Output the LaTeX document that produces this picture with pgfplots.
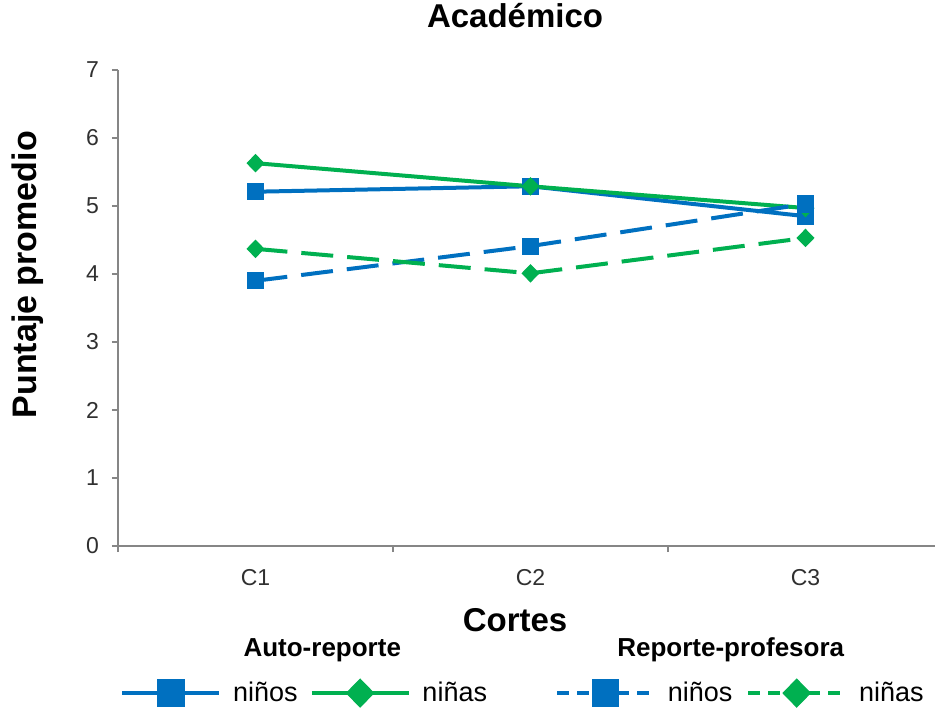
\documentclass[border=0pt]{standalone}
\usepackage{fontspec}
\setmainfont{Liberation Sans}
\usepackage{pgfplots}
\pgfplotsset{compat=1.18}
\definecolor{serieblue}{HTML}{0070C0}
\definecolor{seriegreen}{HTML}{00B050}
\definecolor{axisgray}{HTML}{868686}
\definecolor{ticktext}{HTML}{303030}

\begin{document}
\begin{tikzpicture}
\useasboundingbox (0,0) rectangle (467.5pt,355.5pt);
\begin{axis}[
  scale only axis, width=408.5pt, height=238pt,
  at={(59pt,82.5pt)}, anchor=south west,
  clip=false,
  xmin=-0.5, xmax=2.471, ymin=0, ymax=7,
  axis x line=bottom, axis y line=left,
  axis line style={axisgray, line width=0.8pt, -},
  tick align=outside, major tick length=3pt,
  tick style={axisgray, line width=0.7pt},
  xtick={-0.5,0.5,1.5}, xticklabels={},
  extra x ticks={0,1,2}, extra x tick labels={C1,C2,C3},
  extra x tick style={major tick length=0pt, tick style={draw=none}},
  ytick={0,1,...,7},
  /pgf/number format/assume math mode=true,
  ticklabel style={font=\fontsize{11.5}{13}\selectfont, text=ticktext},
  xticklabel style={yshift=-8pt},
  yticklabel style={xshift=-3pt},
  title={Académico},
  title style={font=\fontsize{16.5}{19}\selectfont\bfseries, at={(axis description cs:0.486,1.09)}, anchor=center},
  xlabel={Cortes},
  xlabel style={font=\fontsize{16.5}{19}\selectfont\bfseries, at={(axis description cs:0.486,-0.155)}, anchor=center},
  ylabel={Puntaje promedio},
  ylabel style={font=\fontsize{17}{20}\selectfont\bfseries, at={(axis description cs:-0.11,0.57)}, anchor=center},
  legend columns=4,
  legend style={at={(axis description cs:0.497,-0.309)}, anchor=center, draw=none,
    font=\fontsize{13.5}{15}\selectfont,
    /tikz/every odd column/.append style={column sep=4pt},
    /tikz/column 2/.style={column sep=4pt},
    /tikz/column 4/.style={column sep=32pt},
    /tikz/column 6/.style={column sep=5pt}},
  legend image code/.code={%
    \draw[mark repeat=2, mark phase=2, every mark/.append style={scale=1.65}, #1]
      plot coordinates {(0cm,0cm) (0.85cm,0cm) (1.7cm,0cm)};},
]
% Auto-reporte (solid lines)
\addplot[serieblue, line width=2pt, mark=square*, mark size=4pt,
  mark options={line width=0.6pt}, forget plot]
  coordinates {(0,5.21) (1,5.29) (2,4.85)};
\addplot[seriegreen, line width=2pt, mark=diamond*, mark size=4.2pt,
  mark options={line width=0.6pt, xscale=1.3}, forget plot]
  coordinates {(0,5.63) (1,5.29) (2,4.97)};
% Reporte-profesora (long dashes)
\addplot[serieblue, line width=2pt, dash pattern=on 16pt off 7pt, mark=square*, mark size=4pt,
  mark options={solid, line width=0.6pt}, forget plot]
  coordinates {(0,3.90) (1,4.41) (2,5.03)};
\addplot[seriegreen, line width=2pt, dash pattern=on 16pt off 7pt, mark=diamond*, mark size=4.2pt,
  mark options={solid, line width=0.6pt, xscale=1.3}, forget plot]
  coordinates {(0,4.37) (1,4.01) (2,4.53)};
% legend keys (shorter dashes)
\addlegendimage{serieblue, line width=2pt, mark=square*, mark size=4pt, mark options={line width=0.6pt}}
\addlegendentry{niños}
\addlegendimage{seriegreen, line width=2pt, mark=diamond*, mark size=4.2pt, mark options={line width=0.6pt, xscale=1.3}}
\addlegendentry{niñas}
\addlegendimage{serieblue, line width=2pt, dash pattern=on 6pt off 4pt, mark=square*, mark size=4pt, mark options={solid, line width=0.6pt}}
\addlegendentry{niños}
\addlegendimage{seriegreen, line width=2pt, dash pattern=on 6pt off 4pt, mark=diamond*, mark size=4.2pt, mark options={solid, line width=0.6pt, xscale=1.3}}
\addlegendentry{niñas}
\node[font=\fontsize{13}{15}\selectfont\bfseries] at (axis description cs:0.25,-0.218) {Auto-reporte};
\node[font=\fontsize{13}{15}\selectfont\bfseries] at (axis description cs:0.75,-0.218) {Reporte-profesora};
\end{axis}
\end{tikzpicture}
\end{document}
